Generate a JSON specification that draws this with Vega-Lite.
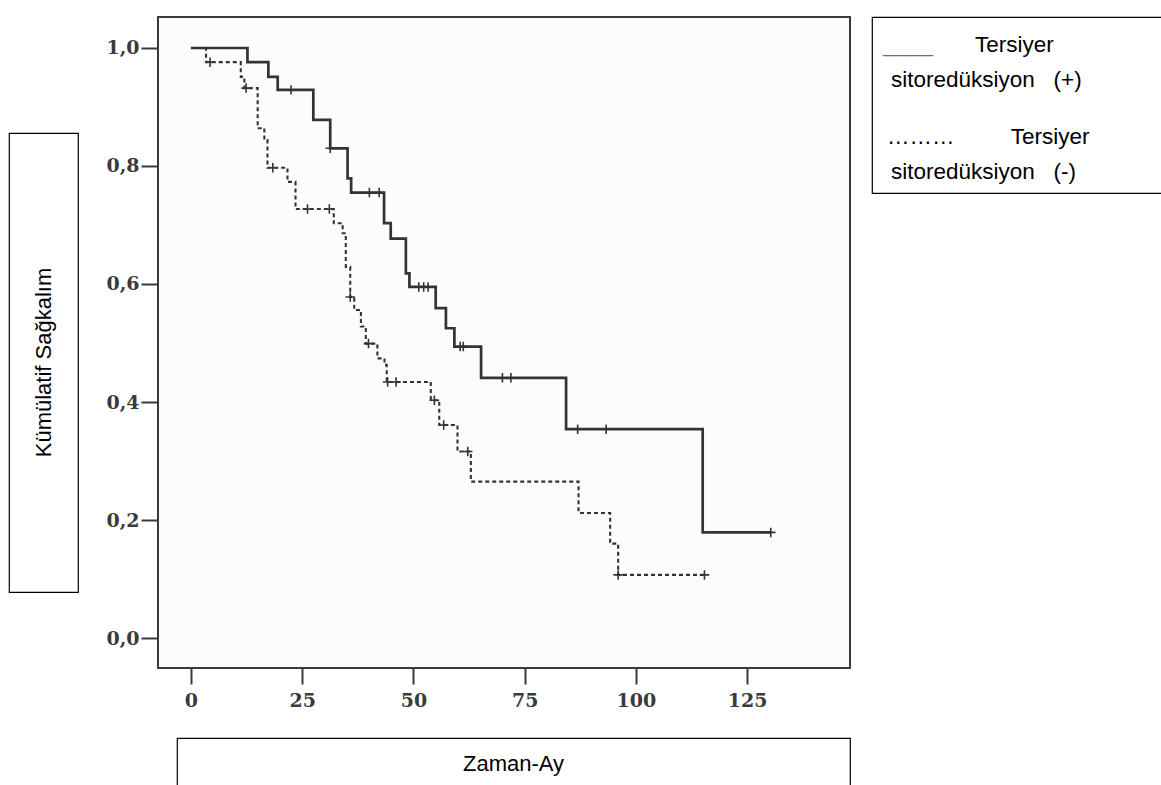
{
  "$schema": "https://vega.github.io/schema/vega-lite/v6.json",
  "padding": {"left": 8, "top": 16, "right": 0, "bottom": 0},
  "background": "white",
  "config": {"view": {"stroke": null}, "font": "Liberation Sans"},
  "datasets": {
    "egri": [
      {"grup": "Tersiyer sitoredüksiyon (+)", "ay": 0, "sagkalim": 1.0},
      {"grup": "Tersiyer sitoredüksiyon (+)", "ay": 12.7, "sagkalim": 0.976},
      {"grup": "Tersiyer sitoredüksiyon (+)", "ay": 17.4, "sagkalim": 0.951},
      {"grup": "Tersiyer sitoredüksiyon (+)", "ay": 19.5, "sagkalim": 0.929},
      {"grup": "Tersiyer sitoredüksiyon (+)", "ay": 27.5, "sagkalim": 0.878},
      {"grup": "Tersiyer sitoredüksiyon (+)", "ay": 31.3, "sagkalim": 0.83},
      {"grup": "Tersiyer sitoredüksiyon (+)", "ay": 35.2, "sagkalim": 0.779},
      {"grup": "Tersiyer sitoredüksiyon (+)", "ay": 36.0, "sagkalim": 0.755},
      {"grup": "Tersiyer sitoredüksiyon (+)", "ay": 43.4, "sagkalim": 0.703},
      {"grup": "Tersiyer sitoredüksiyon (+)", "ay": 44.9, "sagkalim": 0.677},
      {"grup": "Tersiyer sitoredüksiyon (+)", "ay": 48.3, "sagkalim": 0.618},
      {"grup": "Tersiyer sitoredüksiyon (+)", "ay": 49.1, "sagkalim": 0.595},
      {"grup": "Tersiyer sitoredüksiyon (+)", "ay": 55.0, "sagkalim": 0.559},
      {"grup": "Tersiyer sitoredüksiyon (+)", "ay": 57.3, "sagkalim": 0.525},
      {"grup": "Tersiyer sitoredüksiyon (+)", "ay": 59.2, "sagkalim": 0.494},
      {"grup": "Tersiyer sitoredüksiyon (+)", "ay": 65.2, "sagkalim": 0.441},
      {"grup": "Tersiyer sitoredüksiyon (+)", "ay": 84.3, "sagkalim": 0.354},
      {"grup": "Tersiyer sitoredüksiyon (+)", "ay": 115.0, "sagkalim": 0.179},
      {"grup": "Tersiyer sitoredüksiyon (+)", "ay": 130.3, "sagkalim": 0.179},
      {"grup": "Tersiyer sitoredüksiyon (-)", "ay": 0, "sagkalim": 1.0},
      {"grup": "Tersiyer sitoredüksiyon (-)", "ay": 3.4, "sagkalim": 0.976},
      {"grup": "Tersiyer sitoredüksiyon (-)", "ay": 11.2, "sagkalim": 0.951},
      {"grup": "Tersiyer sitoredüksiyon (-)", "ay": 12.0, "sagkalim": 0.932},
      {"grup": "Tersiyer sitoredüksiyon (-)", "ay": 15.0, "sagkalim": 0.864},
      {"grup": "Tersiyer sitoredüksiyon (-)", "ay": 16.5, "sagkalim": 0.844},
      {"grup": "Tersiyer sitoredüksiyon (-)", "ay": 17.2, "sagkalim": 0.797},
      {"grup": "Tersiyer sitoredüksiyon (-)", "ay": 21.7, "sagkalim": 0.773},
      {"grup": "Tersiyer sitoredüksiyon (-)", "ay": 23.5, "sagkalim": 0.727},
      {"grup": "Tersiyer sitoredüksiyon (-)", "ay": 32.1, "sagkalim": 0.703},
      {"grup": "Tersiyer sitoredüksiyon (-)", "ay": 34.1, "sagkalim": 0.686},
      {"grup": "Tersiyer sitoredüksiyon (-)", "ay": 34.8, "sagkalim": 0.629},
      {"grup": "Tersiyer sitoredüksiyon (-)", "ay": 35.8, "sagkalim": 0.578},
      {"grup": "Tersiyer sitoredüksiyon (-)", "ay": 36.7, "sagkalim": 0.556},
      {"grup": "Tersiyer sitoredüksiyon (-)", "ay": 38.2, "sagkalim": 0.528},
      {"grup": "Tersiyer sitoredüksiyon (-)", "ay": 39.3, "sagkalim": 0.499},
      {"grup": "Tersiyer sitoredüksiyon (-)", "ay": 41.9, "sagkalim": 0.474},
      {"grup": "Tersiyer sitoredüksiyon (-)", "ay": 43.5, "sagkalim": 0.463},
      {"grup": "Tersiyer sitoredüksiyon (-)", "ay": 44.0, "sagkalim": 0.434},
      {"grup": "Tersiyer sitoredüksiyon (-)", "ay": 53.9, "sagkalim": 0.403},
      {"grup": "Tersiyer sitoredüksiyon (-)", "ay": 55.8, "sagkalim": 0.361},
      {"grup": "Tersiyer sitoredüksiyon (-)", "ay": 59.9, "sagkalim": 0.316},
      {"grup": "Tersiyer sitoredüksiyon (-)", "ay": 62.9, "sagkalim": 0.265},
      {"grup": "Tersiyer sitoredüksiyon (-)", "ay": 87.1, "sagkalim": 0.212},
      {"grup": "Tersiyer sitoredüksiyon (-)", "ay": 94.2, "sagkalim": 0.16},
      {"grup": "Tersiyer sitoredüksiyon (-)", "ay": 96.0, "sagkalim": 0.107},
      {"grup": "Tersiyer sitoredüksiyon (-)", "ay": 115.4, "sagkalim": 0.107}
    ],
    "sansur": [
      {"grup": "Tersiyer sitoredüksiyon (+)", "ay": 22.5, "sagkalim": 0.929},
      {"grup": "Tersiyer sitoredüksiyon (+)", "ay": 31.3, "sagkalim": 0.83},
      {"grup": "Tersiyer sitoredüksiyon (+)", "ay": 40.1, "sagkalim": 0.755},
      {"grup": "Tersiyer sitoredüksiyon (+)", "ay": 42.3, "sagkalim": 0.755},
      {"grup": "Tersiyer sitoredüksiyon (+)", "ay": 51.2, "sagkalim": 0.595},
      {"grup": "Tersiyer sitoredüksiyon (+)", "ay": 52.3, "sagkalim": 0.595},
      {"grup": "Tersiyer sitoredüksiyon (+)", "ay": 53.3, "sagkalim": 0.595},
      {"grup": "Tersiyer sitoredüksiyon (+)", "ay": 60.5, "sagkalim": 0.494},
      {"grup": "Tersiyer sitoredüksiyon (+)", "ay": 61.2, "sagkalim": 0.494},
      {"grup": "Tersiyer sitoredüksiyon (+)", "ay": 70.0, "sagkalim": 0.441},
      {"grup": "Tersiyer sitoredüksiyon (+)", "ay": 71.9, "sagkalim": 0.441},
      {"grup": "Tersiyer sitoredüksiyon (+)", "ay": 86.9, "sagkalim": 0.354},
      {"grup": "Tersiyer sitoredüksiyon (+)", "ay": 93.3, "sagkalim": 0.354},
      {"grup": "Tersiyer sitoredüksiyon (+)", "ay": 130.3, "sagkalim": 0.179},
      {"grup": "Tersiyer sitoredüksiyon (-)", "ay": 4.3, "sagkalim": 0.976},
      {"grup": "Tersiyer sitoredüksiyon (-)", "ay": 12.4, "sagkalim": 0.932},
      {"grup": "Tersiyer sitoredüksiyon (-)", "ay": 18.4, "sagkalim": 0.797},
      {"grup": "Tersiyer sitoredüksiyon (-)", "ay": 26.2, "sagkalim": 0.727},
      {"grup": "Tersiyer sitoredüksiyon (-)", "ay": 31.1, "sagkalim": 0.727},
      {"grup": "Tersiyer sitoredüksiyon (-)", "ay": 35.8, "sagkalim": 0.578},
      {"grup": "Tersiyer sitoredüksiyon (-)", "ay": 39.9, "sagkalim": 0.499},
      {"grup": "Tersiyer sitoredüksiyon (-)", "ay": 44.2, "sagkalim": 0.434},
      {"grup": "Tersiyer sitoredüksiyon (-)", "ay": 46.1, "sagkalim": 0.434},
      {"grup": "Tersiyer sitoredüksiyon (-)", "ay": 54.7, "sagkalim": 0.403},
      {"grup": "Tersiyer sitoredüksiyon (-)", "ay": 56.8, "sagkalim": 0.361},
      {"grup": "Tersiyer sitoredüksiyon (-)", "ay": 62.2, "sagkalim": 0.316},
      {"grup": "Tersiyer sitoredüksiyon (-)", "ay": 96.0, "sagkalim": 0.107},
      {"grup": "Tersiyer sitoredüksiyon (-)", "ay": 115.4, "sagkalim": 0.107}
    ],
    "aciklama": [
      {"paragraf": 1, "satir": 1, "metin": "Tersiyer"},
      {"paragraf": 1, "satir": 2, "metin": "sitoredüksiyon\u00a0\u00a0\u00a0(+)"},
      {"paragraf": 2, "satir": 1, "metin": "………\u00a0\u00a0\u00a0\u00a0\u00a0\u00a0\u00a0\u00a0\u00a0Tersiyer"},
      {"paragraf": 2, "satir": 2, "metin": "sitoredüksiyon\u00a0\u00a0\u00a0(-)"}
    ],
    "isaret": [
      {"paragraf": 1, "cizgi": "____"}
    ],
    "bos": [{"metin": ""}]
  },
  "hconcat": [
    {
      "vconcat": [
        {
          "width": 1, "height": 100,
          "data": {"name": "bos"},
          "mark": {"type": "text"},
          "encoding": {"text": {"field": "metin"}}
        },
        {
          "width": 69, "height": 459,
          "view": {"stroke": "#000000", "strokeWidth": 1.2},
          "data": {"values": [{"baslik": "Kümülatif Sağkalım"}]},
          "mark": {"type": "text", "angle": 270, "font": "Liberation Sans", "fontSize": 22, "color": "#000000", "align": "center", "baseline": "middle"},
          "encoding": {"text": {"field": "baslik"}}
        }
      ],
      "spacing": 15
    },
    {
      "hconcat": [
        {
          "vconcat": [
            {
              "width": 692, "height": 651,
              "view": {"stroke": "#3a3a3a", "strokeWidth": 2, "fill": "#fcfcfc"},
              "layer": [
                {
                  "data": {"name": "egri"},
                  "mark": {"type": "line", "interpolate": "step-after", "color": "#333333"},
                  "encoding": {
                    "x": {"field": "ay", "type": "quantitative",
                      "scale": {"domain": [-7.4, 148.1], "nice": false, "zero": false},
                      "axis": {"values": [0, 25, 50, 75, 100, 125], "title": null, "grid": false, "domain": false,
                        "tickSize": 16, "tickWidth": 2, "tickColor": "#3a3a3a",
                        "labelFont": "DejaVu Serif", "labelFontWeight": "bold", "labelFontSize": 19, "labelColor": "#3a3a3a",
                        "labelPadding": 7, "labelFlush": false}},
                    "y": {"field": "sagkalim", "type": "quantitative",
                      "scale": {"domain": [-0.0508, 1.0525], "nice": false, "zero": false},
                      "axis": {"values": [0, 0.2, 0.4, 0.6, 0.8, 1.0], "title": null, "grid": false, "domain": false,
                        "labelExpr": "replace(format(datum.value, '.1f'), '.', ',')",
                        "tickSize": 17, "tickWidth": 2, "tickColor": "#3a3a3a",
                        "labelFont": "DejaVu Serif", "labelFontWeight": "bold", "labelFontSize": 19, "labelColor": "#3a3a3a",
                        "labelPadding": 2, "labelFlush": false}},
                    "strokeDash": {"field": "grup", "type": "nominal",
                      "scale": {"domain": ["Tersiyer sitoredüksiyon (+)", "Tersiyer sitoredüksiyon (-)"], "range": [[1, 0], [4, 3]]},
                      "legend": null},
                    "strokeWidth": {"field": "grup", "type": "nominal",
                      "scale": {"domain": ["Tersiyer sitoredüksiyon (+)", "Tersiyer sitoredüksiyon (-)"], "range": [2.7, 2.1]},
                      "legend": null}
                  }
                },
                {
                  "data": {"name": "sansur"},
                  "mark": {"type": "point", "shape": "M-1,0H1M0,-1V1", "filled": false, "stroke": "#333333", "strokeWidth": 1.6, "size": 90, "opacity": 1},
                  "encoding": {
                    "x": {"field": "ay", "type": "quantitative"},
                    "y": {"field": "sagkalim", "type": "quantitative"}
                  }
                }
              ]
            },
            {
              "hconcat": [
                {
                  "width": 18, "height": 1,
                  "data": {"name": "bos"},
                  "mark": {"type": "text"},
                  "encoding": {"text": {"field": "metin"}}
                },
                {
                  "width": 673, "height": 52,
                  "view": {"stroke": "#000000", "strokeWidth": 1.2},
                  "data": {"values": [{"baslik": "Zaman-Ay"}]},
                  "mark": {"type": "text", "font": "Liberation Sans", "fontSize": 22, "color": "#000000", "align": "center", "baseline": "middle"},
                  "encoding": {"text": {"field": "baslik"}}
                }
              ],
              "spacing": 0
            }
          ],
          "spacing": 21
        },
        {
          "width": 295, "height": 176,
          "view": {"stroke": "#000000", "strokeWidth": 1.2},
          "encoding": {
            "x": {"datum": 0, "type": "quantitative", "scale": {"domain": [0, 1]}, "axis": null},
            "y": {"field": "paragraf", "type": "ordinal", "scale": {"type": "point", "domain": [1, 2], "padding": 0.4535}, "axis": null}
          },
          "layer": [
            {
              "data": {"name": "isaret"},
              "mark": {"type": "text", "font": "Liberation Sans", "fontSize": 22.5, "color": "#4472C4", "align": "left", "baseline": "alphabetic", "dx": 11, "dy": -7},
              "encoding": {"text": {"field": "cizgi"}}
            },
            {
              "data": {"name": "aciklama"},
              "transform": [{"filter": "datum.paragraf == 1 && datum.satir == 1"}],
              "mark": {"type": "text", "font": "Liberation Sans", "fontSize": 22.5, "color": "#000000", "align": "left", "baseline": "alphabetic", "dx": 103, "dy": -7},
              "encoding": {"text": {"field": "metin"}}
            },
            {
              "data": {"name": "aciklama"},
              "transform": [{"filter": "datum.paragraf == 2 && datum.satir == 1"}],
              "mark": {"type": "text", "font": "Liberation Sans", "fontSize": 22.5, "color": "#000000", "align": "left", "baseline": "alphabetic", "dx": 15, "dy": -7},
              "encoding": {"text": {"field": "metin"}}
            },
            {
              "data": {"name": "aciklama"},
              "transform": [{"filter": "datum.satir == 2"}],
              "mark": {"type": "text", "font": "Liberation Sans", "fontSize": 22.5, "color": "#000000", "align": "left", "baseline": "alphabetic", "dx": 19, "dy": 28},
              "encoding": {"text": {"field": "metin"}}
            }
          ]
        }
      ],
      "spacing": 20
    }
  ],
  "spacing": 25
}
